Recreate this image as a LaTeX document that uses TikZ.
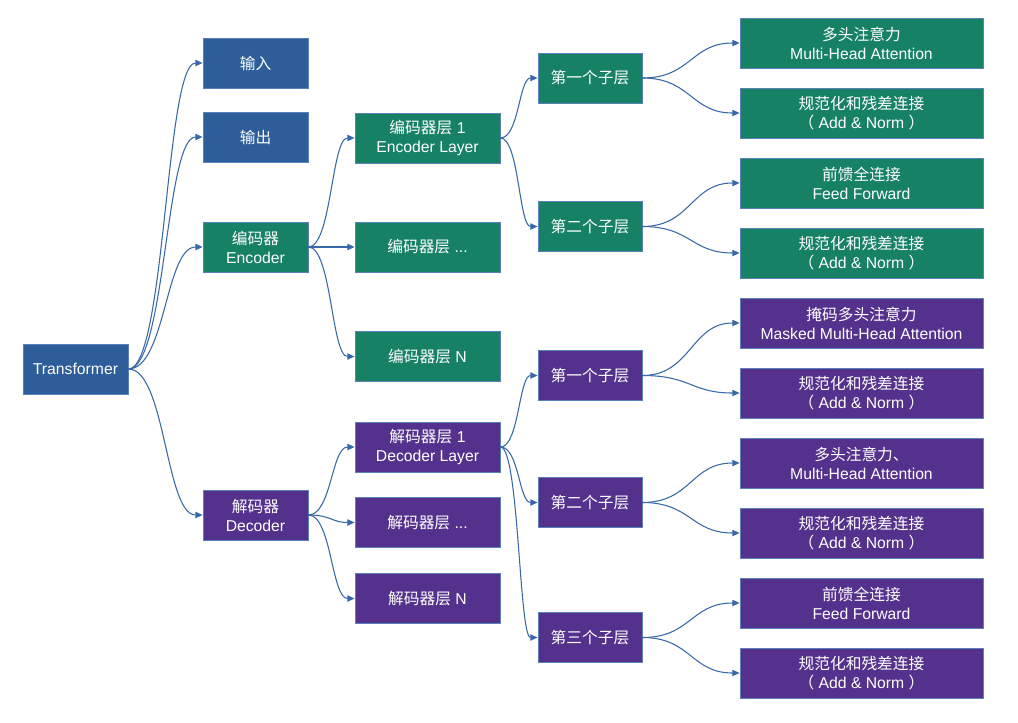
\documentclass[tikz,border=0pt]{standalone}
\usepackage{fontspec}
\setmainfont{Liberation Sans}
\newfontfamily\cjk{Noto Sans CJK SC}
\usetikzlibrary{arrows.meta,calc}

\definecolor{fblue}{RGB}{45,94,153}
\definecolor{fgreen}{RGB}{23,129,101}
\definecolor{fpurple}{RGB}{84,49,140}
\definecolor{lineblue}{RGB}{56,104,168}
\definecolor{edgeblue}{RGB}{92,128,186}

\tikzset{every picture/.style={line width=0.75pt}}
\tikzset{
  box/.style={draw=edgeblue, line width=0.6pt, text=white, inner sep=0pt,
    minimum height=37.5pt, align=center, font=\fontsize{11.8}{14.3}\selectfont},
  topbox/.style={box, minimum width=78.75pt},
  layerbox/.style={box, minimum width=108.75pt},
  subbox/.style={box, minimum width=78pt},
  leafbox/.style={box, minimum width=182.25pt},
  arrowline/.style={draw=lineblue, line width=0.8pt, -{Triangle[length=5.5pt,width=4.8pt]}}
}

% curved link from right side of #1 to left side of #2
\newcommand{\link}[2]{%
  \path ($(#1.east)!0.5!(#2.west)$) coordinate (mid);
  \draw [arrowline] (#1.east) .. controls (mid |- #1.east) and (mid |- #2.west) .. (#2.west);}

\begin{document}
\begin{tikzpicture}[x=0.75pt,y=0.75pt,yscale=-1,xscale=1]
\useasboundingbox (0,0) rectangle (1018,722);

%Shape: Rectangle [root]
\node [topbox, fill=fblue] (tf) at (75.5,369) {Transformer};

%Shape: Rectangle [first level]
\node [topbox, fill=fblue] (inp) at (255.5,63) {\cjk 输入};
\node [topbox, fill=fblue] (outp) at (255.5,137) {\cjk 输出};
\node [topbox, fill=fgreen] (enc) at (255.5,247) {{\cjk 编码器}\\Encoder};
\node [topbox, fill=fpurple] (dec) at (255.5,515) {{\cjk 解码器}\\Decoder};

%Shape: Rectangle [encoder layers]
\node [layerbox, fill=fgreen] (el1) at (427.5,138) {{\cjk 编码器层} 1\\Encoder Layer};
\node [layerbox, fill=fgreen] (el2) at (427.5,247) {{\cjk 编码器层} ...};
\node [layerbox, fill=fgreen] (elN) at (427.5,356.5) {{\cjk 编码器层} N};

%Shape: Rectangle [decoder layers]
\node [layerbox, fill=fpurple] (dl1) at (427.5,447) {{\cjk 解码器层} 1\\Decoder Layer};
\node [layerbox, fill=fpurple] (dl2) at (427.5,522.5) {{\cjk 解码器层} ...};
\node [layerbox, fill=fpurple] (dlN) at (427.5,598.5) {{\cjk 解码器层} N};

%Shape: Rectangle [sub layers]
\node [subbox, fill=fgreen] (es1) at (590,78) {\cjk 第一个子层};
\node [subbox, fill=fgreen] (es2) at (590,226.5) {\cjk 第二个子层};
\node [subbox, fill=fpurple] (ds1) at (590,375.5) {\cjk 第一个子层};
\node [subbox, fill=fpurple] (ds2) at (590,502.5) {\cjk 第二个子层};
\node [subbox, fill=fpurple] (ds3) at (590,637.5) {\cjk 第三个子层};

%Shape: Rectangle [leaves]
\node [leafbox, fill=fgreen] (r1) at (861.5,43) {{\cjk 多头注意力}\\Multi-Head Attention};
\node [leafbox, fill=fgreen] (r2) at (861.5,113) {{\cjk 规范化和残差连接}\\{\cjk （} Add \& Norm {\cjk ）}};
\node [leafbox, fill=fgreen] (r3) at (861.5,183) {{\cjk 前馈全连接}\\Feed Forward};
\node [leafbox, fill=fgreen] (r4) at (861.5,253) {{\cjk 规范化和残差连接}\\{\cjk （} Add \& Norm {\cjk ）}};
\node [leafbox, fill=fpurple] (r5) at (861.5,323) {{\cjk 掩码多头注意力}\\Masked Multi-Head Attention};
\node [leafbox, fill=fpurple] (r6) at (861.5,393) {{\cjk 规范化和残差连接}\\{\cjk （} Add \& Norm {\cjk ）}};
\node [leafbox, fill=fpurple] (r7) at (861.5,463) {{\cjk 多头注意力、}\\Multi-Head Attention};
\node [leafbox, fill=fpurple] (r8) at (861.5,533) {{\cjk 规范化和残差连接}\\{\cjk （} Add \& Norm {\cjk ）}};
\node [leafbox, fill=fpurple] (r9) at (861.5,603) {{\cjk 前馈全连接}\\Feed Forward};
\node [leafbox, fill=fpurple] (r10) at (861.5,673) {{\cjk 规范化和残差连接}\\{\cjk （} Add \& Norm {\cjk ）}};

% Links
\link{tf}{inp}
\link{tf}{outp}
\link{tf}{enc}
\link{tf}{dec}
\link{enc}{el1}
\link{enc}{el2}
\link{enc}{elN}
\link{dec}{dl1}
\link{dec}{dl2}
\link{dec}{dlN}
\link{el1}{es1}
\link{el1}{es2}
\link{dl1}{ds1}
\link{dl1}{ds2}
\link{dl1}{ds3}
\link{es1}{r1}
\link{es1}{r2}
\link{es2}{r3}
\link{es2}{r4}
\link{ds1}{r5}
\link{ds1}{r6}
\link{ds2}{r7}
\link{ds2}{r8}
\link{ds3}{r9}
\link{ds3}{r10}

\end{tikzpicture}
\end{document}
